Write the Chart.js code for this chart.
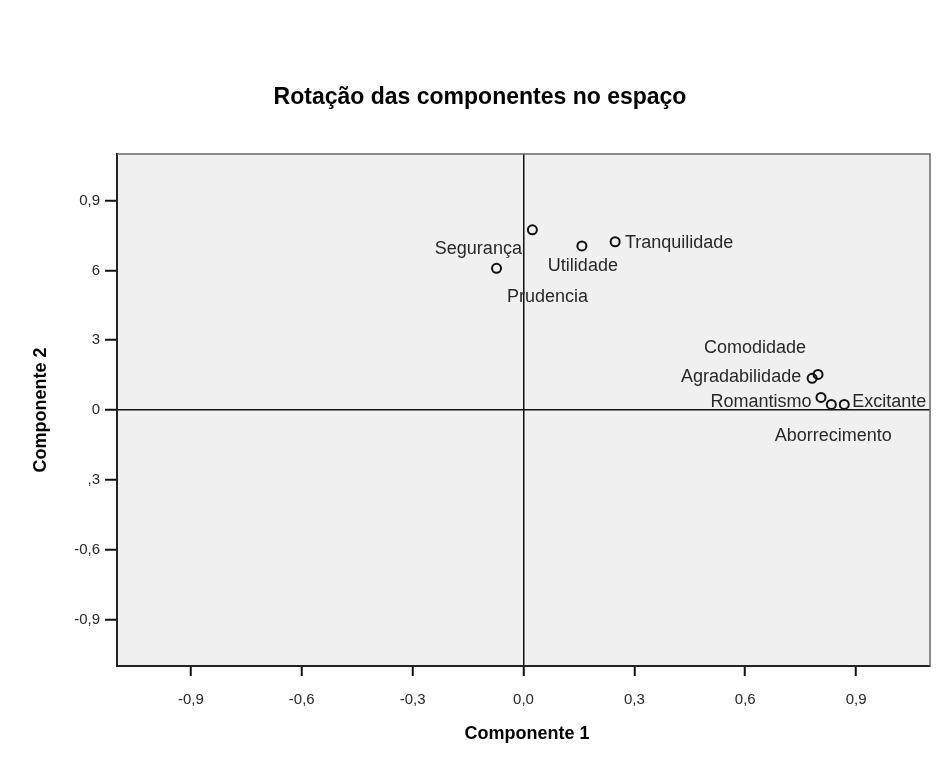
<!DOCTYPE html>
<html>
<head>
<meta charset="utf-8">
<script src="https://cdn.jsdelivr.net/npm/chart.js@4.4.1/dist/chart.umd.min.js"></script>
<style>
  html, body { margin: 0; padding: 0; background: #fff; }
  #wrap { width: 945px; height: 757px; position: relative; }
</style>
</head>
<body>
<div id="wrap"><canvas id="grafico"></canvas></div>
<script>
// Cargas das variáveis nas duas componentes
const variaveis = ['Prudencia', 'Segurança', 'Utilidade', 'Tranquilidade', 'Agradabilidade', 'Comodidade', 'Romantismo', 'Aborrecimento', 'Excitante'];
const componente1 = [-0.073, 0.024, 0.158, 0.248, 0.781, 0.797, 0.805, 0.833, 0.868];
const componente2 = [0.609, 0.774, 0.705, 0.723, 0.136, 0.153, 0.054, 0.024, 0.024];

const xTicks = [-0.9, -0.6, -0.3, 0, 0.3, 0.6, 0.9];
const xTickLabels = ['-0,9', '-0,6', '-0,3', '0,0', '0,3', '0,6', '0,9'];
const yTicks = [-0.9, -0.6, -0.3, 0, 0.3, 0.6, 0.9];
const yTickLabels = ['-0,9', '-0,6', ',3', '0', '3', '6', '0,9'];

// deslocamento dos rótulos (px) em relação a cada ponto
const rotuloDesloc = [[51, 29], [-54, 19], [1, 20], [64, 1], [-71, -1], [-63, -26], [-60, 5], [2, 32], [45, -2]];

const FONTE = '"Liberation Sans", Arial, sans-serif';

// fundo cinza, moldura, rótulos e títulos
const decoracao = {
    id: 'decoracao',
    beforeDraw(chart) {
        const { ctx, chartArea: a } = chart;
        ctx.save();
        ctx.fillStyle = '#f0f0f0';
        ctx.fillRect(a.left, a.top, a.right - a.left, a.bottom - a.top);
        ctx.restore();
    },
    afterDatasetsDraw(chart) {
        const { ctx } = chart;
        const meta = chart.getDatasetMeta(0);
        ctx.save();
        ctx.font = '18px ' + FONTE;
        ctx.fillStyle = '#282828';
        ctx.textAlign = 'center';
        ctx.textBaseline = 'middle';
        meta.data.forEach((pt, i) => {
            const [dx, dy] = rotuloDesloc[i];
            ctx.fillText(variaveis[i], pt.x + dx, pt.y + dy);
        });
        ctx.restore();
    },
    afterDraw(chart) {
        const { ctx, chartArea: a } = chart;
        ctx.save();
        // topo e direita da moldura
        ctx.strokeStyle = '#666';
        ctx.lineWidth = 1.5;
        ctx.beginPath();
        ctx.moveTo(a.left, a.top);
        ctx.lineTo(a.right, a.top);
        ctx.lineTo(a.right, a.bottom);
        ctx.stroke();

        ctx.fillStyle = '#000';
        ctx.textAlign = 'center';
        ctx.textBaseline = 'middle';
        ctx.font = 'bold 23px ' + FONTE;
        ctx.fillText('Rotação das componentes no espaço', 480, 98);
        ctx.font = 'bold 18px ' + FONTE;
        ctx.fillText('Componente 1', 527, 734);
        ctx.translate(41, 410);
        ctx.rotate(-Math.PI / 2);
        ctx.fillText('Componente 2', 0, 0);
        ctx.restore();
    }
};

const linhaZero = c => (c.tick && c.tick.value === 0) ? '#111' : 'rgba(0,0,0,0)';

new Chart(document.getElementById('grafico'), {
    type: 'scatter',
    data: {
        datasets: [{
            data: componente1.map((x, i) => ({ x: x, y: componente2[i] })),
            pointRadius: 4.5,
            pointHoverRadius: 4.5,
            borderWidth: 2,
            borderColor: '#111',
            backgroundColor: 'rgba(0,0,0,0)'
        }]
    },
    options: {
        responsive: true,
        maintainAspectRatio: false,
        animation: false,
        layout: { padding: { top: 154, right: 15, left: 0, bottom: 0 } },
        plugins: {
            legend: { display: false },
            title: { display: false },
            tooltip: { enabled: false }
        },
        scales: {
            x: {
                type: 'linear',
                min: -1.1,
                max: 1.1,
                afterBuildTicks: s => { s.ticks = xTicks.map(v => ({ value: v })); },
                afterFit: s => { s.height = 91; },
                ticks: {
                    autoSkip: false,
                    maxRotation: 0,
                    padding: 15,
                    color: '#282828',
                    font: { family: FONTE, size: 15 },
                    callback: v => xTickLabels[xTicks.indexOf(v)]
                },
                grid: { color: linhaZero, lineWidth: 1.5, tickColor: '#111', tickWidth: 2, tickLength: 10 },
                border: { color: '#222', width: 2 }
            },
            y: {
                type: 'linear',
                min: -1.1,
                max: 1.1,
                afterBuildTicks: s => { s.ticks = yTicks.map(v => ({ value: v })); },
                afterFit: s => { s.width = 117; },
                ticks: {
                    autoSkip: false,
                    padding: 5,
                    color: '#282828',
                    font: { family: FONTE, size: 15 },
                    callback: v => yTickLabels[yTicks.indexOf(v)]
                },
                grid: { color: linhaZero, lineWidth: 1.5, tickColor: '#111', tickWidth: 2, tickLength: 12 },
                border: { color: '#222', width: 2 }
            }
        }
    },
    plugins: [decoracao]
});
</script>
</body>
</html>
